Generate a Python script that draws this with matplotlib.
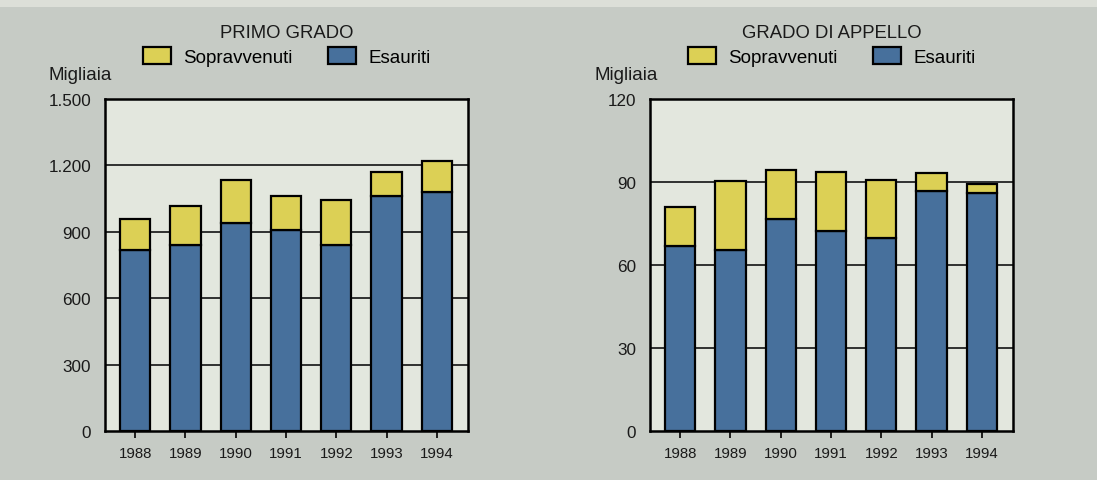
import matplotlib.pyplot as plt
from matplotlib.patches import Patch, Rectangle

plt.rcParams['font.family'] = ['Liberation Sans', 'DejaVu Sans']

# dati (migliaia)
anni = ["1988", "1989", "1990", "1991", "1992", "1993", "1994"]
primo_esauriti = [820, 840, 940, 907, 840, 1060, 1082]
primo_totale = [960, 1015, 1135, 1064, 1042, 1168, 1221]
appello_esauriti = [66.7, 65.5, 76.5, 72.2, 69.9, 86.7, 86.1]
appello_totale = [81.1, 90.4, 94.4, 93.7, 90.8, 93.2, 89.4]
primo_ticks = [0, 300, 600, 900, 1200, 1500]
primo_ticklabels = ["0", "300", "600", "900", "1.200", "1.500"]
appello_ticks = [0, 30, 60, 90, 120]
appello_ticklabels = ["0", "30", "60", "90", "120"]

BLU = "#47709c"
GIALLO = "#dcd055"
FONDO = "#c6cbc5"
AREA = "#e3e7de"

W, H = 1097, 481
fig = plt.figure(figsize=(W / 100, H / 100), dpi=100, facecolor=FONDO)
fig.add_artist(Rectangle((0, 1 - 8 / H), 1, 8 / H, transform=fig.transFigure,
                         facecolor="#dcdfd8", edgecolor="none"))


def pannello(x0, titolo, esauriti, totale, ticks, ticklabels):
    ax = fig.add_axes([x0 / W, (H - 432) / H, 363 / W, 332 / H])
    ax.set_facecolor(AREA)
    pos = range(len(anni))
    sopravv = [t - e for t, e in zip(totale, esauriti)]
    ax.bar(pos, esauriti, width=0.6, color=BLU, edgecolor="black", linewidth=1.6, zorder=3)
    ax.bar(pos, sopravv, bottom=esauriti, width=0.6, color=GIALLO,
           edgecolor="black", linewidth=1.6, zorder=3)
    for t in ticks[1:-1]:
        ax.axhline(t, color="#222222", linewidth=1.3, zorder=1)
    ax.set_xlim(-0.6, len(anni) - 1 + 0.62)
    ax.set_ylim(ticks[0], ticks[-1])
    ax.set_yticks(ticks)
    ax.set_yticklabels(ticklabels, fontsize=12.3, color="#1a1a1a")
    ax.set_xticks(list(pos))
    ax.set_xticklabels(anni, fontsize=10.8, color="#1a1a1a")
    ax.tick_params(axis="y", length=0, pad=10)
    ax.tick_params(axis="x", length=5, width=1.2, direction="out", pad=6)
    for s in ax.spines.values():
        s.set_linewidth(1.8)
        s.set_zorder(4)
    ax.text(0.5, 1.2, titolo, transform=ax.transAxes, ha="center", va="center",
            fontsize=13.3, color="#1a1a1a")
    handles = [Patch(facecolor=GIALLO, edgecolor="black", linewidth=1.6, label="Sopravvenuti"),
               Patch(facecolor=BLU, edgecolor="black", linewidth=1.6, label="Esauriti")]
    ax.legend(handles=handles, loc="center", bbox_to_anchor=(0.5, 1.127), ncol=2,
              frameon=False, fontsize=13.5, handlelength=1.5, handleheight=1.0,
              columnspacing=1.9, handletextpad=0.65)
    return ax


pannello(105, "PRIMO GRADO", primo_esauriti, primo_totale, primo_ticks, primo_ticklabels)
pannello(650, "GRADO DI APPELLO", appello_esauriti, appello_totale, appello_ticks, appello_ticklabels)

fig.text(48 / W, 1 - 75 / H, "Migliaia", ha="left", va="center", fontsize=13.5, color="#1a1a1a")
fig.text(595 / W, 1 - 75 / H, "Migliaia", ha="left", va="center", fontsize=13.5, color="#1a1a1a")

fig.savefig("out.png", dpi=100, facecolor=FONDO)
